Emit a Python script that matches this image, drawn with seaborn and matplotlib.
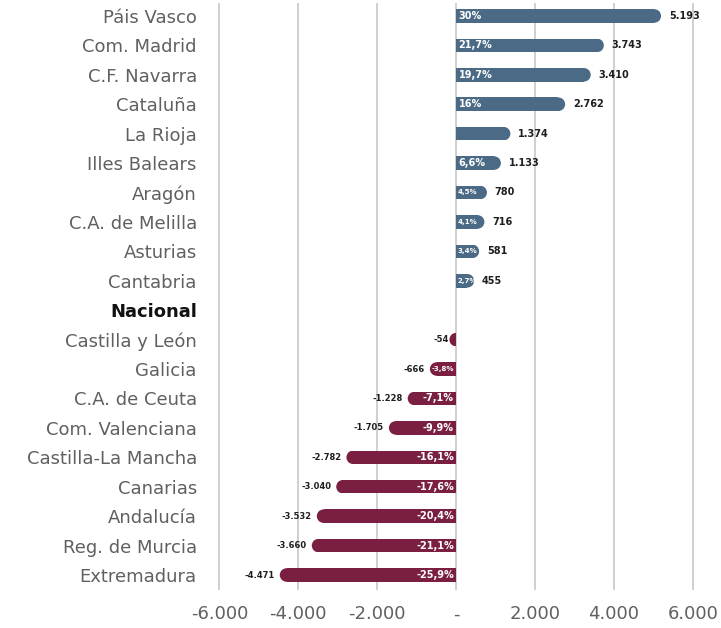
import numpy as np
import pandas as pd
import matplotlib
matplotlib.use('Agg')
import matplotlib.pyplot as plt
from matplotlib.patches import Ellipse, Rectangle
import seaborn as sns

# Data
regions = ['Páis Vasco', 'Com. Madrid', 'C.F. Navarra', 'Cataluña', 'La Rioja',
           'Illes Balears', 'Aragón', 'C.A. de Melilla', 'Asturias', 'Cantabria',
           'Nacional', 'Castilla y León', 'Galicia', 'C.A. de Ceuta',
           'Com. Valenciana', 'Castilla-La Mancha', 'Canarias', 'Andalucía',
           'Reg. de Murcia', 'Extremadura']
values = [5193, 3743, 3410, 2762, 1374, 1133, 780, 716, 581, 455,
          0, -54, -666, -1228, -1705, -2782, -3040, -3532, -3660, -4471]
pct_labels = ['30%', '21,7%', '19,7%', '16%', '', '6,6%', '4,5%', '4,1%', '3,4%', '2,7%',
              '', '', '-3,8%', '-7,1%', '-9,9%', '-16,1%', '-17,6%', '-20,4%', '-21,1%', '-25,9%']
x_ticks = [-6000, -4000, -2000, 0, 2000, 4000, 6000]
x_tick_labels = ['-6.000', '-4.000', '-2.000', '-', '2.000', '4.000', '6.000']

BLUE = '#4b6a85'
MAROON = '#7a1f42'


def fmt_num(v):
    return f"{v:,}".replace(',', '.')


df = pd.DataFrame({'region': regions, 'value': values})
colors = [BLUE if v > 0 else MAROON for v in values]

sns.set_style('white')
plt.rcParams['font.family'] = ['DejaVu Sans']

fig = plt.figure(figsize=(7.21, 6.28), dpi=100)
ax = fig.add_axes([0.300, 0.0605, 0.684, 0.9347])

bar_h = 0.46
sns.barplot(data=df, x='value', y='region', hue='region', palette=colors,
            orient='h', legend=False, width=bar_h, saturation=1, linewidth=0, ax=ax)

ax.set_xlim(-6080, 6420)
ax.set_ylim(19.51, -0.44)

# rounded outer ends on the bars
px_per_unit = (ax.transData.transform((1000, 0))[0] - ax.transData.transform((0, 0))[0]) / 1000
bar_px = (ax.transData.transform((0, 0))[1] - ax.transData.transform((0, bar_h))[1])
r = (abs(bar_px) / 2) / px_per_unit
for p in list(ax.patches):
    w = p.get_width()
    if not np.isfinite(w) or w == 0:
        continue
    p.set_edgecolor('none')
    s = np.sign(w)
    y, h = p.get_y(), p.get_height()
    body = max(abs(w) - r, 0)
    p.set_width(s * body)
    cap = Ellipse((s * body, y + h / 2), 2 * r, h, facecolor=p.get_facecolor(),
                  edgecolor='none', lw=0)
    ax.add_patch(cap)
    clip = Rectangle((0, y), s * 1e5, h, transform=ax.transData)
    cap.set_clip_path(clip)

# labels: percent inside, value outside
for i, (v, pl) in enumerate(zip(values, pct_labels)):
    if v == 0:
        continue
    small = abs(v) < 900
    if v > 0:
        if pl:
            ax.text(40 if small else 60, i, pl, color='white', fontweight='bold',
                    fontsize=5 if small else 7, va='center', ha='left')
        ax.text(v + 200, i, fmt_num(v), color='#1e1e1e', fontweight='bold', fontsize=7,
                va='center', ha='left')
    else:
        if pl:
            ax.text(-40 if small else -60, i, pl, color='white', fontweight='bold',
                    fontsize=5 if small else 7, va='center', ha='right')
        ax.text(v - 130, i, fmt_num(v), color='#1e1e1e', fontweight='bold', fontsize=6,
                va='center', ha='right')

ax.set_xticks(x_ticks)
ax.set_xticklabels(x_tick_labels)
ax.xaxis.grid(True, color='#cfcfcf', lw=1.4)
ax.yaxis.grid(False)
ax.set_axisbelow(True)
for sp in ax.spines.values():
    sp.set_visible(False)
ax.set_xlabel('')
ax.set_ylabel('')
ax.tick_params(axis='x', length=0, pad=11, labelsize=13, labelcolor='#606060')
ax.tick_params(axis='y', length=0, pad=14, labelsize=13, labelcolor='#606060')
lab = ax.get_yticklabels()[regions.index('Nacional')]
lab.set_fontweight('bold')
lab.set_color('#111111')

fig.savefig('out.png', dpi=100)
